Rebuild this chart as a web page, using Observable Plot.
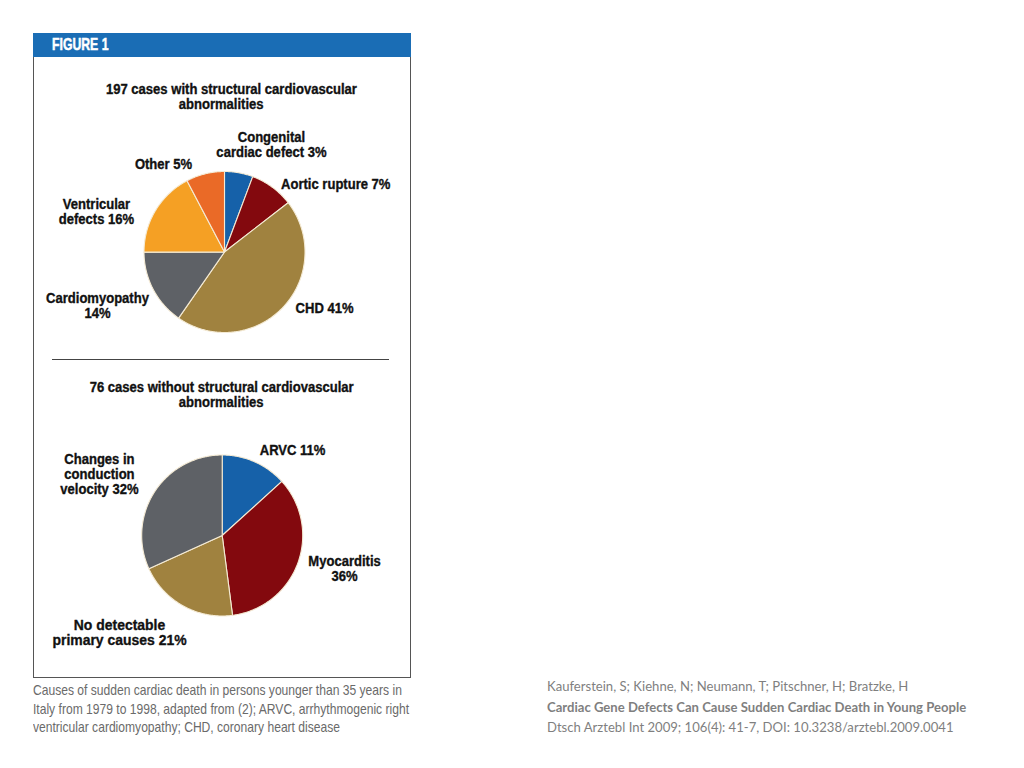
<!DOCTYPE html>
<html>
<head>
<meta charset="utf-8">
<script src="https://cdn.jsdelivr.net/npm/d3@7"></script>
<script src="https://cdn.jsdelivr.net/npm/@observablehq/plot@0.6"></script>
<style>
  html, body { margin: 0; padding: 0; background: #fff; }
  body { width: 1024px; height: 768px; position: relative; overflow: hidden; }
  .sans { font-family: "Liberation Sans", Arial, Helvetica, sans-serif; }
  #box { position: absolute; left: 33px; top: 33px; width: 376px; height: 644px;
         border-left: 1px solid #555; border-right: 1px solid #555; border-bottom: 1px solid #555; }
  #header { position: absolute; left: 33px; top: 33px; width: 378px; height: 24px; background: #1a6db5; }
  #header span { position: absolute; left: 19px; top: 2px; color: #fff; font-weight: bold; font-size: 17px;
                 line-height: 20px; display: inline-block; transform: scaleX(0.72); transform-origin: left center;
                 -webkit-text-stroke: 0.5px #fff; }
  .title { position: absolute; left: 33px; width: 377px; text-align: center; font-weight: bold; font-size: 14.5px; line-height: 15px; color: #111; }
  .title span { display: inline-block; white-space: nowrap; transform: scaleX(0.9); transform-origin: center; -webkit-text-stroke: 0.35px #111; }
  .plot { position: absolute; left: 33px; }
  #divider { position: absolute; left: 52px; top: 359px; width: 337px; height: 0; border-top: 1.5px solid #444; }
  #caption { position: absolute; left: 33px; top: 681px; font-size: 14.5px; line-height: 18.5px; color: #6a6a6a;
             white-space: nowrap; transform-origin: left top; }
  #cite { position: absolute; left: 547px; top: 676px; font-family: Lato, "Open Sans", sans-serif; font-size: 13.1px; line-height: 20.5px; color: #7f7f7f; white-space: nowrap; }
</style>
</head>
<body>
<div id="box"></div>
<div id="header"><span class="sans">FIGURE 1</span></div>
<div class="title sans" style="top:82px"><div style="padding-left:20px"><span>197 cases with structural cardiovascular</span></div><div><span>abnormalities</span></div></div>
<div id="pie1" class="plot" style="top:112px"></div>
<div id="divider"></div>
<div class="title sans" style="top:380px"><div><span>76 cases without structural cardiovascular</span></div><div><span>abnormalities</span></div></div>
<div id="pie2" class="plot" style="top:415px"></div>
<div id="caption" class="sans">Causes of sudden cardiac death in persons younger than 35 years in<br>Italy from 1979 to 1998, adapted from (2); ARVC, arrhythmogenic right<br>ventricular cardiomyopathy; CHD, coronary heart disease</div>
<div id="cite">Kauferstein, S; Kiehne, N; Neumann, T; Pitschner, H; Bratzke, H<br><b>Cardiac Gene Defects Can Cause Sudden Cardiac Death in Young People</b><br>Dtsch Arztebl Int 2009; 106(4): 41-7, DOI: 10.3238/arztebl.2009.0041</div>

<script>
// ---- Data: top pie (197 cases with structural abnormalities) ----
const cats1 = ["Congenital cardiac defect", "Aortic rupture", "CHD", "Cardiomyopathy", "Ventricular defects", "Other"];
const pct1 = [3, 7, 41, 14, 16, 5];                 // percentages printed in labels
const share1 = [5.7, 8.8, 45.1, 15.3, 17.3, 7.7];   // slice sizes as drawn in the picture
const labels1 = ["Congenital\ncardiac defect 3%", "Aortic rupture 7%", "CHD 41%", "Cardiomyopathy\n14%", "Ventricular\ndefects 16%", "Other 5%"];
const colors1 = ["#1661a9", "#83090e", "#a0823f", "#5e6166", "#f5a024", "#ea6a27"];

// ---- Data: bottom pie (76 cases without structural abnormalities) ----
const cats2 = ["ARVC", "Myocarditis", "No detectable primary causes", "Changes in conduction velocity"];
const pct2 = [11, 36, 21, 32];
const share2 = [13.3, 34.7, 20.3, 31.8];
const labels2 = ["ARVC 11%", "Myocarditis\n36%", "No detectable\nprimary causes 21%", "Changes in\nconduction\nvelocity 32%"];
const colors2 = ["#1661a9", "#83090e", "#a0823f", "#5e6166"];

// ---- Styling: label placement relative to slice edge midpoint (px) ----
const nudge1 = [[32.6, -28.1], [8.8, -2.8], [12.7, 0.9], [-55.7, 16.7], [-59.1, 1.6], [-41.7, -9.3]];
const anchor1 = ["middle", "start", "start", "middle", "middle", "middle"];
const nudge2 = [[4.9, -11.4], [46.8, 5.4], [-63.5, 26.9], [-55.1, -17.8]];
const anchor2 = ["start", "middle", "middle", "middle"];
const size2 = [14.5, 14.5, 15.5, 14.5];

const FONT = '"Liberation Sans", Arial, Helvetica, sans-serif';
const CONDENSE = 0.9;

function piePlot({cats, shares, colors, labels, nudge, anchor, sizes, cx, cy, R, W, H}) {
  const rows = cats.map((c, i) => ({cat: c, share: shares[i], label: labels[i], nudge: nudge[i], anchor: anchor[i], size: sizes ? sizes[i] : 14.5}));
  const arcs = d3.pie().sort(null).value(d => d.share)(rows);
  const poly = [];
  arcs.forEach(a => {
    poly.push({cat: a.data.cat, x: 0, y: 0});
    const n = Math.max(2, Math.ceil((a.endAngle - a.startAngle) / 0.01));
    for (let k = 0; k <= n; k++) {
      const t = a.startAngle + (a.endAngle - a.startAngle) * k / n;
      poly.push({cat: a.data.cat, x: Math.sin(t), y: Math.cos(t)});
    }
    poly.push({cat: a.data.cat, x: 0, y: 0});
  });
  const labelMarks = arcs.map(a => {
    const m = (a.startAngle + a.endAngle) / 2;
    return Plot.text([a.data], {
      x: () => Math.sin(m), y: () => Math.cos(m), text: "label",
      dx: a.data.nudge[0], dy: a.data.nudge[1], textAnchor: a.data.anchor,
      lineAnchor: "middle", lineHeight: 14.8 / a.data.size,
      fontSize: a.data.size, fontWeight: "bold", fill: "#111", fontFamily: FONT,
      stroke: "#111", strokeWidth: 0.35
    });
  });
  const svg = Plot.plot({
    width: W, height: H, margin: 0,
    style: {background: "transparent", fontFamily: FONT, overflow: "visible"},
    x: {domain: [-cx / R, (W - cx) / R], axis: null},
    y: {domain: [-(H - cy) / R, cy / R], axis: null},
    color: {domain: cats, range: colors},
    marks: [
      Plot.line(poly, {x: "x", y: "y", z: "cat", fill: "cat", stroke: "#f4ead4", strokeWidth: 1.1, strokeLinejoin: "round", curve: "linear"}),
      ...labelMarks
    ]
  });
  // condense label glyphs horizontally around each label's anchor point
  svg.querySelectorAll('g[aria-label="text"] text').forEach(t => {
    const tr = t.getAttribute("transform") || "";
    t.setAttribute("transform", `${tr} scale(${CONDENSE},1)`);
  });
  return svg;
}

document.getElementById("pie1").append(piePlot({
  cats: cats1, shares: share1, colors: colors1, labels: labels1, nudge: nudge1, anchor: anchor1,
  cx: 191, cy: 139.5, R: 80.5, W: 377, H: 240
}));
document.getElementById("pie2").append(piePlot({
  cats: cats2, shares: share2, colors: colors2, labels: labels2, nudge: nudge2, anchor: anchor2, sizes: size2,
  cx: 188.7, cy: 120, R: 80.5, W: 377, H: 240
}));

// fit caption width to the figure box
const cap = document.getElementById("caption");
const capW = cap.getBoundingClientRect().width;
cap.style.transform = `scaleX(${376 / capW})`;
</script>
</body>
</html>
